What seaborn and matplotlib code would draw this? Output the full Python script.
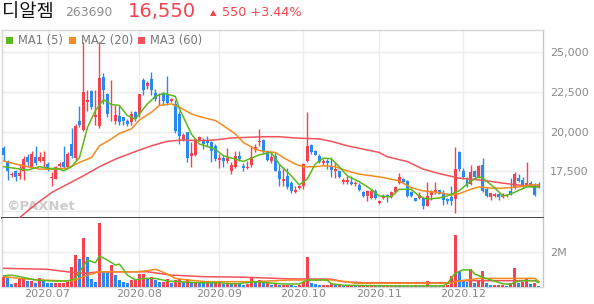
import numpy as np
import matplotlib
matplotlib.use("Agg")
import matplotlib.pyplot as plt
from matplotlib.patches import Rectangle
import seaborn as sns

# ---------------- data ----------------
month_labels = ["2020.07", "2020.08", "2020.09", "2020.10", "2020.11", "2020.12"]
month_pos = [11, 34, 54, 75, 94, 115]

opens = [19000, 18170, 17290, 17540, 17230, 17540, 18430, 17750, 18430, 18170,
         18130, 17960, 17100, 17030, 17860, 18070, 17750, 19240, 18360, 20650,
         20100, 21850, 22550, 20900, 20380, 23440, 22390, 21650, 20700, 21010,
         20900, 20700, 20590, 21220, 21120, 23270, 22850, 23290, 22420, 22320,
         22420, 22390, 21920, 21750, 21140, 19470, 19960, 18480, 18540, 19430,
         19490, 19430, 19320, 19110, 18210, 18370, 18120, 17490, 17780, 18480,
         17850, 17700, 17910, 18840, 19320, 19490, 18750, 18170, 18490, 17540,
         16860, 17210, 16790, 16220, 16440, 16600, 18160, 19180, 18760, 18490,
         18000, 18170, 17860, 17500, 17500, 16850, 16850, 16800, 16690, 16660,
         16170, 15920, 15820, 16280, 15480, 15820, 16030, 15900, 16180, 16740,
         17020, 16910, 16170, 15800, 15820, 15800, 15340, 16030, 16170, 16300,
         16140, 15760, 15860, 15760, 18700, 17540, 17020, 16710, 17500, 17120,
         17920, 16390, 15860, 15930, 16080, 15860, 15930, 16280, 16450, 17080,
         16980, 16600, 16770, 16660, 16700]
highs = [19120, 18200, 17480, 17600, 17960, 18490, 18600, 18800, 19120, 18700,
         18760, 18070, 17440, 17860, 18070, 19120, 18700, 20250, 20500, 21600,
         25650, 22600, 22600, 22600, 25650, 23700, 22450, 23230, 21650, 21640,
         20950, 20800, 21330, 21330, 22390, 23400, 23200, 23750, 22700, 22450,
         22500, 23500, 22100, 22000, 21330, 19900, 20000, 19320, 19600, 19700,
         19600, 19700, 19400, 19250, 18600, 18550, 18990, 18100, 18800, 18750,
         18000, 18120, 19110, 19220, 20170, 19540, 18840, 18660, 18660, 17960,
         17790, 17740, 16900, 16560, 16660, 18050, 21220, 19250, 18870, 18600,
         18300, 18300, 18430, 18100, 17560, 17100, 17230, 17180, 16900, 16750,
         16250, 16300, 16400, 16400, 15700, 16050, 16100, 16250, 16560, 17370,
         17100, 16950, 16250, 15850, 16200, 15850, 16800, 16350, 16800, 16350,
         16300, 15850, 16560, 19010, 18800, 17740, 17120, 17880, 17600, 17900,
         18350, 16500, 16150, 16150, 16150, 16150, 16100, 17100, 17450, 17300,
         17150, 18060, 16920, 16750, 16800]
lows = [18170, 16980, 17170, 16910, 17020, 16980, 17800, 17710, 17920, 18070,
        17750, 17540, 16600, 17030, 17750, 17730, 17710, 18360, 18170, 20270,
        20050, 21320, 21450, 20440, 20250, 21770, 20950, 20700, 20500, 20440,
        20440, 20380, 20440, 20640, 20950, 22330, 22700, 22280, 21960, 21700,
        21700, 21700, 21850, 19900, 19220, 19400, 18100, 17780, 18480, 19380,
        18900, 19100, 18060, 18170, 17740, 17800, 18050, 17350, 17700, 18170,
        17540, 17660, 17780, 18700, 19120, 18660, 18170, 18020, 17490, 16600,
        16560, 16410, 16140, 16160, 16410, 16410, 18100, 18620, 18500, 18000,
        17920, 17650, 17120, 17100, 17050, 16700, 16700, 16640, 16600, 16280,
        15900, 15660, 15750, 15750, 15450, 15750, 15560, 15850, 16120, 16700,
        16750, 15900, 15900, 15600, 15750, 15150, 15300, 15700, 16100, 16050,
        15400, 15450, 15400, 14900, 17530, 17020, 16500, 16620, 17050, 17050,
        16180, 15900, 15680, 15900, 15680, 15800, 15900, 16030, 16400, 16850,
        16450, 16550, 16500, 15950, 16450]
closes = [18550, 17540, 17360, 17170, 17380, 18280, 18070, 18590, 18000, 18380,
          18380, 17650, 17170, 17750, 17960, 17750, 18590, 18480, 20380, 20440,
          22500, 22000, 21540, 21080, 23350, 22600, 21120, 21770, 21080, 20590,
          20650, 20500, 21140, 20800, 22390, 22600, 23060, 22600, 22070, 22390,
          21960, 21790, 22030, 20060, 19750, 19810, 18370, 18630, 19540, 19640,
          19220, 19260, 18800, 18270, 18370, 18120, 18370, 17910, 18480, 18270,
          17700, 17780, 18420, 19010, 19430, 18750, 18210, 18380, 17540, 17020,
          17000, 16520, 16260, 16350, 16560, 17960, 19110, 18700, 18550, 18070,
          18170, 18050, 17590, 17650, 17120, 16980, 16980, 16700, 16760, 16330,
          15970, 16240, 16280, 15820, 15650, 15970, 15860, 16170, 16490, 17120,
          16810, 15970, 15970, 15650, 16030, 15340, 15920, 16170, 16330, 16100,
          15700, 15610, 15610, 17650, 17650, 17120, 16600, 17440, 17120, 17860,
          16280, 15970, 16110, 16090, 15860, 16080, 16030, 16080, 17330, 16910,
          16490, 16770, 16600, 16030, 16550]
volume_m = [0.61, 0.55, 0.19, 0.27, 0.51, 0.61, 0.36, 0.38, 0.27, 0.51,
            0.38, 0.27, 0.23, 0.23, 0.23, 0.27, 0.32, 1.18, 1.85, 1.62,
            2.84, 1.75, 0.46, 0.32, 3.70, 0.93, 0.89, 1.27, 0.70, 0.42,
            0.32, 0.27, 0.42, 0.46, 0.74, 0.74, 0.51, 0.61, 0.42, 0.32,
            0.32, 0.46, 0.23, 0.42, 0.48, 0.32, 0.46, 0.32, 0.32, 0.27,
            0.23, 0.32, 0.23, 0.32, 0.32, 0.19, 0.23, 0.19, 0.23, 0.19,
            0.15, 0.19, 0.51, 0.32, 0.42, 0.23, 0.23, 0.15, 0.23, 0.15,
            0.15, 0.15, 0.12, 0.10, 0.12, 0.32, 1.73, 0.23, 0.19, 0.12,
            0.12, 0.15, 0.19, 0.12, 0.12, 0.10, 0.10, 0.15, 0.10, 0.10,
            0.10, 0.10, 0.10, 0.10, 0.08, 0.08, 0.08, 0.10, 0.08, 0.15,
            0.08, 0.10, 0.08, 0.15, 0.08, 0.08, 0.36, 0.10, 0.10, 0.08,
            0.10, 0.15, 0.63, 2.97, 0.93, 0.42, 0.30, 1.07, 0.27, 0.44,
            0.93, 0.23, 0.13, 0.13, 0.13, 0.13, 0.10, 0.27, 1.10, 0.27,
            0.32, 0.55, 0.20, 0.22, 0.05]

ma1_idx = [0, 6, 9, 11, 14, 15, 17, 19, 21, 23, 25, 27, 29, 31, 33, 34, 36, 38, 40, 43,
           44, 47, 49, 53, 55, 58, 60, 64, 67, 69, 72, 74, 76, 78, 80, 82, 84, 86, 89, 92,
           94, 97, 99, 102, 104, 106, 109, 111, 114, 117, 119, 120, 123, 125, 127, 129, 131, 134]
ma1_val = [17790, 17580, 17790, 17700, 17640, 17530, 17790, 18370, 20270, 21330,
           22010, 21710, 21650, 21010, 20800, 21120, 21750, 22220, 22420, 22220,
           21460, 19850, 19220, 18900, 18480, 18270, 18120, 18540, 18690, 17950,
           17220, 16650, 17010, 17950, 18330, 18290, 17800, 17220, 16850, 16370,
           15950, 15890, 16370, 16370, 15950, 15740, 15820, 15950, 16270, 16900,
           17150, 17070, 16440, 15950, 16070, 16310, 16520, 16520]
ma2_idx = [0, 3, 6, 9, 13, 16, 19, 22, 24, 27, 29, 32, 34, 37, 39, 42, 44, 47, 49, 53,
           55, 58, 60, 63, 65, 68, 70, 73, 75, 78, 80, 83, 86, 89, 92, 94, 95, 99, 102, 105,
           109, 112, 114, 117, 119, 122, 125, 129, 132, 134]
ma2_val = [18160, 17960, 17790, 17640, 17640, 17700, 18060, 18370, 19110, 19540,
           19890, 20170, 20740, 21220, 21650, 21750, 21540, 21120, 20950, 20700,
           20380, 19850, 19320, 18900, 18750, 18690, 18370, 17960, 17790, 17790,
           17850, 17790, 17530, 17320, 17220, 17150, 17110, 16900, 16470, 16270,
           16160, 16010, 16090, 16370, 16520, 16440, 16440, 16520, 16650, 16650]
ma3_idx = [4, 8, 12, 16, 20, 24, 28, 33, 37, 41, 45, 49, 53, 57, 61, 65, 69, 73, 79, 82,
           86, 90, 94, 96, 101, 105, 109, 114, 117, 121, 124, 127, 131, 134]
ma3_val = [14580, 15420, 16160, 16690, 17220, 17790, 18270, 18750, 19110, 19390,
           19480, 19430, 19480, 19600, 19640, 19680, 19680, 19600, 19540, 19390,
           19110, 18900, 18690, 18420, 18120, 17640, 17360, 17070, 17010, 16900,
           16790, 16690, 16580, 16520]

vma1_idx = [0, 2, 4, 8, 12, 16, 18, 19, 21, 23, 24, 26, 28, 29, 31, 33, 35, 38, 41, 44,
            49, 54, 58, 63, 66, 70, 74, 76, 81, 82, 85, 90, 100, 110, 111, 113, 115, 117, 118, 120,
            122, 125, 127, 128, 130, 133, 134]
vma1_val = [0.66, 0.70, 0.61, 0.42, 0.36, 0.36, 0.51, 0.89, 1.56, 1.41,
            1.79, 1.56, 1.27, 1.33, 0.70, 0.42, 0.51, 0.51, 0.36, 0.32,
            0.26, 0.26, 0.19, 0.32, 0.26, 0.19, 0.19, 0.42, 0.42, 0.20,
            0.12, 0.10, 0.08, 0.08, 0.20, 0.80, 1.00, 0.99, 0.75, 0.57,
            0.42, 0.20, 0.18, 0.30, 0.38, 0.38, 0.26]
vma2_idx = [0, 4, 9, 16, 18, 21, 24, 33, 36, 38, 39, 41, 43, 46, 51, 57, 63, 66, 72, 82,
            86, 88, 112, 113, 119, 133, 134]
vma2_val = [0.61, 0.51, 0.42, 0.36, 0.42, 0.70, 0.89, 0.89, 0.95, 1.03,
            0.95, 0.76, 0.51, 0.42, 0.32, 0.32, 0.32, 0.36, 0.42, 0.42,
            0.32, 0.23, 0.23, 0.32, 0.51, 0.51, 0.32]
vma3_idx = [0, 11, 16, 20, 24, 36, 42, 50, 60, 72, 82, 85, 90, 112, 113, 133, 134]
vma3_val = [1.09, 1.03, 0.89, 0.80, 0.89, 0.89, 0.70, 0.61, 0.58, 0.48,
            0.47, 0.32, 0.26, 0.26, 0.38, 0.38, 0.33]

price_ticks = [15000, 17500, 20000, 22500, 25000]
price_tick_labels = ["", "17,500", "20,000", "22,500", "25,000"]

# ---------------- style ----------------
RED = "#f5424f"
BLUE = "#2a89ef"
GREEN = "#5cb81c"
ORANGE = "#f68b1f"
MA3C = "#f2525c"
GRID = "#ececec"
TXT = "#8a8a8a"

sns.set_theme(style="white")
plt.rcParams["font.family"] = ["DejaVu Sans", "Noto Sans CJK KR"]

W, H = 594, 304
fig = plt.figure(figsize=(W / 100, H / 100), dpi=100)
L, R = 2, 543.3
T1, B1, B2 = 30, 217.5, 287.3
ax = fig.add_axes([L / W, 1 - B1 / H, (R - L) / W, (B1 - T1) / H])
axv = fig.add_axes([L / W, 1 - B2 / H, (R - L) / W, (B2 - B1) / H])

x = np.arange(len(closes))
o = np.array(opens, float)
hi = np.array(highs, float)
lo = np.array(lows, float)
c = np.array(closes, float)
col = np.where(c >= o, RED, BLUE)

# candles
ax.vlines(x, lo, hi, colors=col, lw=1.0, zorder=3)
ax.bar(x, np.maximum(np.abs(c - o), 70), bottom=np.minimum(o, c), width=0.75,
       color=col, linewidth=0, zorder=4)

for idx, val, cc in [(ma3_idx, ma3_val, MA3C), (ma2_idx, ma2_val, ORANGE), (ma1_idx, ma1_val, GREEN)]:
    sns.lineplot(x=idx, y=val, ax=ax, color=cc, lw=1.1, zorder=5)

# volume
v = np.array(volume_m) * 1e6
vcol = [RED] + [RED if v[i] >= v[i - 1] else BLUE for i in range(1, len(v))]
axv.bar(x, v, width=0.75, color=vcol, linewidth=0, zorder=3)
for idx, val, cc in [(vma3_idx, vma3_val, MA3C), (vma2_idx, vma2_val, ORANGE), (vma1_idx, vma1_val, GREEN)]:
    sns.lineplot(x=idx, y=np.array(val) * 1e6, ax=axv, color=cc, lw=1.1, zorder=5)

# axes formatting
for a in (ax, axv):
    a.set_xlim(-0.4, 135.1)
    a.set_xticks(month_pos)
    a.grid(True, color=GRID, lw=1.0, zorder=0)
    a.set_axisbelow(True)
    a.set_xlabel("")
    a.set_ylabel("")
    a.yaxis.tick_right()
    a.tick_params(axis="both", length=0, labelsize=8, labelcolor=TXT)
    for s in a.spines.values():
        s.set_color("#d6d6d6")
        s.set_linewidth(1.0)

ax.set_ylim(14590, 26405)
ax.set_yticks(price_ticks)
ax.set_yticklabels(price_tick_labels)
ax.tick_params(axis="y", pad=5)
ax.tick_params(axis="x", labelbottom=False)
ax.spines["bottom"].set_color("#444444")
ax.spines["bottom"].set_linewidth(1.4)
ax.spines["right"].set_color("#c8c8c8")

axv.set_ylim(0, 4.0e6)
axv.set_yticks([2e6])
axv.set_yticklabels(["2M"])
axv.tick_params(axis="y", pad=5)
axv.set_xticklabels(month_labels)
axv.tick_params(axis="x", pad=1)
axv.spines["top"].set_visible(False)
axv.spines["right"].set_color("#c8c8c8")

# watermark
ax.text(6 / (R - L) * 0 + 0.008, 0.06, "\u00a9PAXNet", transform=ax.transAxes,
        fontsize=9.5, fontweight="bold", color="#cdcdcd", ha="left", va="center", zorder=2)

# legend
def px(xp, yp):
    return xp / W, 1 - yp / H

for sx, name, cc in [(6, "MA1 (5)", GREEN), (69, "MA2 (20)", ORANGE), (138, "MA3 (60)", MA3C)]:
    fx, fy = px(sx, 44.3)
    fig.add_artist(Rectangle((fx, fy), 7 / W, 7.3 / H, transform=fig.transFigure,
                             facecolor=cc, edgecolor="none", zorder=10))
    tx, ty = px(sx + 12, 40.8)
    fig.text(tx, ty, name, fontsize=8.3, color="#777777", ha="left", va="center", zorder=10)

# header
hx, hy = px(2, 12)
fig.text(hx, hy, "디알젬", fontsize=13.5, color="#111111", ha="left", va="center",
         family=["Noto Sans CJK KR", "DejaVu Sans"])
fig.text(*px(65, 13), "263690", fontsize=8.9, color="#8c8c8c", ha="left", va="center")
fig.text(*px(128, 11.5), "16,550", fontsize=14, color=RED, ha="left", va="center")
fig.text(*px(210, 12.5), "\u25b2", fontsize=6, color=RED, ha="left", va="center")
fig.text(*px(222, 13), "550 +3.44%", fontsize=9.2, color=RED, ha="left", va="center")

fig.savefig("out.png", dpi=100)
